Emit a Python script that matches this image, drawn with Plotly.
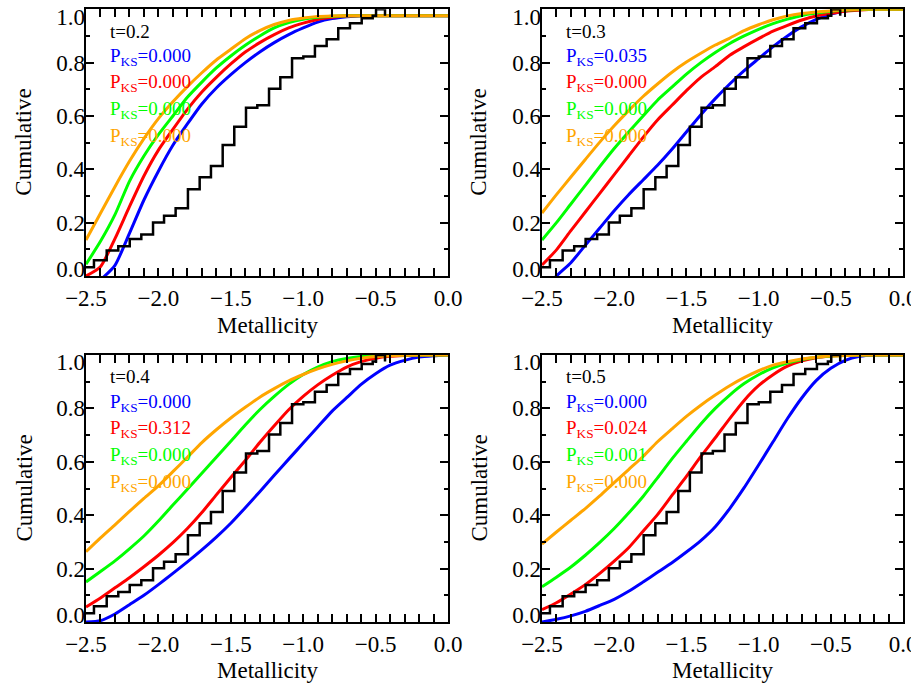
import plotly.graph_objects as go

# ---- data -------------------------------------------------------------

# metallicity grid for the model curves
feh = [-2.5, -2.4, -2.3, -2.2, -2.1, -2.0, -1.9, -1.8, -1.7, -1.6, -1.5, -1.4, -1.3,
       -1.2, -1.1, -1.0, -0.9, -0.8, -0.7, -0.6, -0.5, -0.4, -0.3, -0.2, -0.1, 0.0]

# observed cumulative distribution (same in every panel)
obs_x = [-2.5, -2.445, -2.357, -2.277, -2.198, -2.118, -2.037, -1.961, -1.881, -1.796,
         -1.715, -1.637, -1.556, -1.476, -1.395, -1.317, -1.236, -1.158, -1.077, -0.999,
         -0.919, -0.838, -0.758, -0.677, -0.596, -0.520, -0.497, -0.435]
obs_y = [0.033, 0.059, 0.096, 0.112, 0.139, 0.156, 0.201, 0.226, 0.254, 0.325,
         0.370, 0.412, 0.491, 0.560, 0.631, 0.640, 0.702, 0.745, 0.816, 0.823,
         0.862, 0.888, 0.929, 0.948, 0.966, 0.976, 1.0, 0.976]

times = ["0.2", "0.3", "0.4", "0.5"]

# model cumulative curves, one list per model and time
blue_t2 = [-0.06, -0.015, 0.04, 0.16, 0.285, 0.393, 0.49, 0.57, 0.645, 0.705, 0.755, 0.8, 0.84,
           0.875, 0.905, 0.93, 0.952, 0.965, 0.972, 0.976, 0.976, 0.976, 0.976, 0.976, 0.976, 0.976]
red_t2 = [0.0, 0.035, 0.14, 0.26, 0.375, 0.472, 0.55, 0.625, 0.69, 0.745, 0.795, 0.84, 0.875,
          0.905, 0.93, 0.948, 0.962, 0.97, 0.975, 0.976, 0.976, 0.976, 0.976, 0.976, 0.976, 0.976]
green_t2 = [0.044, 0.13, 0.23, 0.355, 0.45, 0.53, 0.6, 0.67, 0.727, 0.78, 0.825, 0.865, 0.9,
            0.93, 0.95, 0.963, 0.97, 0.974, 0.976, 0.976, 0.976, 0.976, 0.976, 0.976, 0.976, 0.976]
orange_t2 = [0.135, 0.235, 0.335, 0.43, 0.515, 0.59, 0.653, 0.71, 0.762, 0.81, 0.85, 0.89, 0.92,
             0.943, 0.958, 0.967, 0.973, 0.975, 0.976, 0.976, 0.976, 0.976, 0.976, 0.976, 0.976, 0.976]

blue_t3 = [-0.06, 0.0, 0.05, 0.115, 0.18, 0.245, 0.305, 0.36, 0.415, 0.475, 0.54, 0.605, 0.665,
           0.72, 0.77, 0.815, 0.86, 0.9, 0.935, 0.962, 0.982, 0.994, 1.0, 1.0, 1.0, 1.0]
red_t3 = [0.041, 0.098, 0.17, 0.24, 0.31, 0.38, 0.45, 0.52, 0.585, 0.64, 0.695, 0.745, 0.785,
          0.828, 0.86, 0.89, 0.918, 0.94, 0.96, 0.975, 0.985, 0.993, 0.997, 1.0, 1.0, 1.0]
green_t3 = [0.135, 0.2, 0.27, 0.34, 0.41, 0.478, 0.54, 0.6, 0.659, 0.708, 0.757, 0.8, 0.838,
            0.872, 0.9, 0.925, 0.946, 0.963, 0.977, 0.986, 0.993, 0.997, 0.999, 1.0, 1.0, 1.0]
orange_t3 = [0.236, 0.305, 0.371, 0.437, 0.502, 0.563, 0.62, 0.673, 0.72, 0.764, 0.802, 0.835, 0.866,
             0.892, 0.92, 0.942, 0.961, 0.975, 0.984, 0.99, 0.995, 0.998, 1.0, 1.0, 1.0, 1.0]

blue_t4 = [0.0, 0.005, 0.03, 0.065, 0.1, 0.14, 0.182, 0.225, 0.27, 0.318, 0.37, 0.428, 0.488,
           0.55, 0.61, 0.67, 0.73, 0.79, 0.84, 0.89, 0.93, 0.962, 0.98, 0.992, 0.997, 1.0]
red_t4 = [0.056, 0.09, 0.128, 0.166, 0.207, 0.25, 0.297, 0.35, 0.41, 0.476, 0.541, 0.605, 0.672,
          0.735, 0.795, 0.845, 0.888, 0.924, 0.955, 0.975, 0.988, 0.995, 0.998, 1.0, 1.0, 1.0]
green_t4 = [0.15, 0.189, 0.229, 0.274, 0.322, 0.378, 0.438, 0.497, 0.557, 0.617, 0.677, 0.738, 0.795,
            0.845, 0.89, 0.927, 0.955, 0.975, 0.987, 0.994, 0.998, 1.0, 1.0, 1.0, 1.0, 1.0]
orange_t4 = [0.263, 0.315, 0.364, 0.414, 0.463, 0.51, 0.563, 0.617, 0.672, 0.72, 0.764, 0.804, 0.842,
             0.874, 0.903, 0.927, 0.948, 0.965, 0.978, 0.988, 0.994, 0.997, 0.999, 1.0, 1.0, 1.0]

blue_t5 = [0.0, 0.01, 0.023, 0.04, 0.062, 0.085, 0.115, 0.15, 0.186, 0.222, 0.262, 0.305, 0.357,
           0.425, 0.503, 0.588, 0.675, 0.762, 0.84, 0.905, 0.95, 0.98, 0.995, 1.0, 1.0, 1.0]
red_t5 = [0.046, 0.072, 0.105, 0.14, 0.182, 0.228, 0.278, 0.34, 0.402, 0.474, 0.545, 0.62, 0.69,
          0.762, 0.83, 0.885, 0.926, 0.958, 0.978, 0.99, 0.996, 1.0, 1.0, 1.0, 1.0, 1.0]
green_t5 = [0.132, 0.168, 0.206, 0.25, 0.298, 0.35, 0.408, 0.47, 0.54, 0.611, 0.677, 0.742, 0.8,
            0.85, 0.893, 0.926, 0.952, 0.97, 0.983, 0.992, 0.996, 0.999, 1.0, 1.0, 1.0, 1.0]
orange_t5 = [0.292, 0.337, 0.381, 0.425, 0.472, 0.522, 0.571, 0.62, 0.675, 0.723, 0.77, 0.812, 0.85,
             0.885, 0.915, 0.941, 0.962, 0.975, 0.985, 0.992, 0.996, 0.998, 1.0, 1.0, 1.0, 1.0]

# KS probabilities (blue, red, green, orange) per panel
pks_t2 = ["0.000", "0.000", "0.000", "0.000"]
pks_t3 = ["0.035", "0.000", "0.000", "0.000"]
pks_t4 = ["0.000", "0.312", "0.000", "0.000"]
pks_t5 = ["0.000", "0.024", "0.001", "0.000"]

# y tick labels; the end labels sit just inside the frame as in the original
ylab_pos = [0.028, 0.2, 0.4, 0.6, 0.8, 0.973]
ylab_txt = ["0.0", "0.2", "0.4", "0.6", "0.8", "1.0"]

# ---- figure -----------------------------------------------------------

colours = ["#0000ff", "#ff0000", "#00ff00", "#ffa500"]
models = [
    [blue_t2, red_t2, green_t2, orange_t2],
    [blue_t3, red_t3, green_t3, orange_t3],
    [blue_t4, red_t4, green_t4, orange_t4],
    [blue_t5, red_t5, green_t5, orange_t5],
]
pks = [pks_t2, pks_t3, pks_t4, pks_t5]

W, H = 911, 692
xdom = [[86 / W, 448 / W], [542 / W, 903 / W], [86 / W, 448 / W], [542 / W, 903 / W]]
ydom = [[1 - 276 / H, 1 - 9.3 / H], [1 - 276 / H, 1 - 9.3 / H],
        [1 - 622 / H, 1 - 355 / H], [1 - 622 / H, 1 - 355 / H]]
# axis title positions (px)
ytitle_x = [24, 479, 24, 479]
xtitle_y = [325, 325, 670, 670]

FONT = "Liberation Serif"

fig = go.Figure()
layout = dict(
    width=W, height=H,
    margin=dict(l=0, r=0, t=0, b=0, autoexpand=False),
    paper_bgcolor="white", plot_bgcolor="white",
    showlegend=False,
    font=dict(family=FONT, size=23, color="black"),
)
annotations = []

for i in range(4):
    sfx = "" if i == 0 else str(i + 1)
    xa, ya = "x" + sfx, "y" + sfx
    ylab = "y" + str(i + 5)          # overlay axis carrying the tick labels

    for col, yy in zip(colours, models[i]):
        fig.add_trace(go.Scatter(
            x=feh, y=yy, mode="lines", xaxis=xa, yaxis=ya,
            line=dict(color=col, width=3, shape="spline", smoothing=0.6),
        ))
    fig.add_trace(go.Scatter(
        x=obs_x, y=obs_y, mode="lines", xaxis=xa, yaxis=ylab,
        line=dict(color="black", width=2.5, shape="hv"),
    ))

    layout["xaxis" + sfx] = dict(
        domain=xdom[i], anchor=ya, range=[-2.5, 0.0], automargin=False,
        tickvals=[-2.5, -2.0, -1.5, -1.0, -0.5, 0.0], tickformat=".1f",
        ticklabeloverflow="allow",
        ticks="inside", ticklen=8, tickwidth=1.5, tickcolor="black",
        minor=dict(dtick=0.1, ticks="inside", ticklen=4, tickwidth=1.5, tickcolor="black"),
        showline=True, linecolor="black", linewidth=2, mirror="allticks",
        showgrid=False, zeroline=False,
    )
    layout["yaxis" + sfx] = dict(
        domain=ydom[i], anchor=xa, range=[0.0, 1.0], automargin=False,
        tickvals=[0.0, 0.2, 0.4, 0.6, 0.8, 1.0], showticklabels=False,
        ticks="inside", ticklen=8, tickwidth=1.5, tickcolor="black",
        minor=dict(dtick=0.1, ticks="inside", ticklen=4, tickwidth=1.5, tickcolor="black"),
        showline=True, linecolor="black", linewidth=2, mirror="allticks",
        showgrid=False, zeroline=False,
    )
    layout["yaxis" + str(i + 5)] = dict(
        overlaying=ya, anchor=xa, side="left", range=[0.0, 1.0], automargin=False,
        tickvals=ylab_pos, ticktext=ylab_txt, ticks="", ticklabeloverflow="allow",
        showline=False, showgrid=False, zeroline=False,
    )

    # axis titles
    annotations.append(dict(
        text="Metallicity", xref="paper", yref="paper",
        x=(xdom[i][0] + xdom[i][1]) / 2, y=1 - xtitle_y[i] / H,
        xanchor="center", yanchor="middle", showarrow=False,
        font=dict(family=FONT, size=23, color="black"),
    ))
    annotations.append(dict(
        text="Cumulative", xref="paper", yref="paper", textangle=-90,
        x=ytitle_x[i] / W, y=(ydom[i][0] + ydom[i][1]) / 2,
        xanchor="center", yanchor="middle", showarrow=False,
        font=dict(family=FONT, size=23, color="black"),
    ))

    # panel labels
    annotations.append(dict(
        text="t=" + times[i], xref=xa + " domain", yref=ya + " domain",
        x=0.06, y=0.918, xanchor="left", yanchor="middle", showarrow=False,
        font=dict(family=FONT, size=19, color="black"),
    ))
    for k, (col, p) in enumerate(zip(colours, pks[i])):
        annotations.append(dict(
            text="P<sub>KS</sub>=" + p, xref=xa + " domain", yref=ya + " domain",
            x=0.06, y=0.822 - k * 0.1, xanchor="left", yanchor="middle", showarrow=False,
            font=dict(family=FONT, size=19, color=col),
        ))

layout["annotations"] = annotations
fig.update_layout(**layout)

# page body margin would otherwise push the figure 8px right/down
fig.write_html("out.html", config={"displayModeBar": False},
               post_script="document.body.style.margin='0px';")
